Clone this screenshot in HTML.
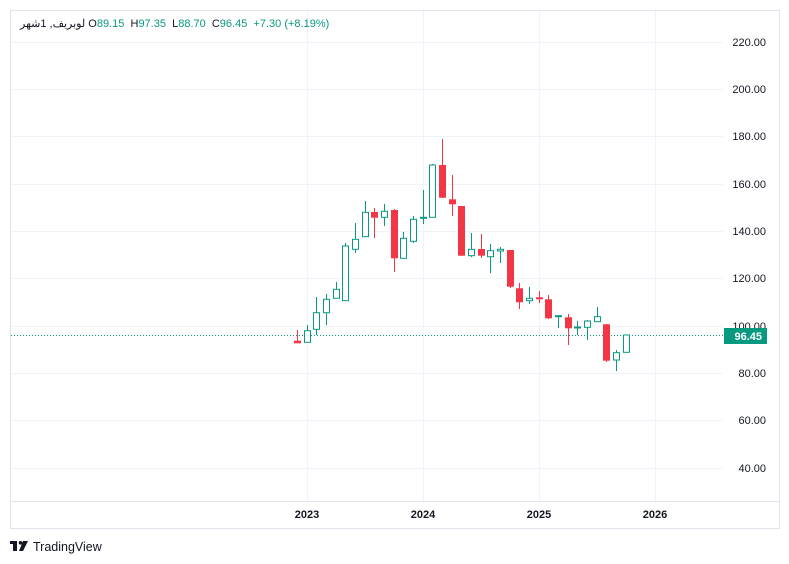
<!DOCTYPE html>
<html><head><meta charset="utf-8"><style>
html,body{margin:0;padding:0;background:#fff;width:789px;height:564px;overflow:hidden;position:relative}
svg{display:block}
text{font-family:"Liberation Sans","Noto Sans CJK SC",sans-serif}
#hd{position:absolute;left:20px;top:17px;font:11px "Liberation Sans","Noto Sans CJK SC",sans-serif;color:#089981;white-space:pre}
#hd b{font-weight:normal;color:#131722}
</style></head><body>
<svg width="789" height="564" viewBox="0 0 789 564" xmlns="http://www.w3.org/2000/svg">
<rect x="10.5" y="10.5" width="769" height="518" fill="#fff" stroke="#e0e3eb"/>
<line x1="11" y1="501.5" x2="779" y2="501.5" stroke="#e0e3eb"/>
<g stroke="#f0f3fa" stroke-width="1">
<line x1="11" y1="42.5" x2="723" y2="42.5"/><line x1="11" y1="89.5" x2="723" y2="89.5"/>
<line x1="11" y1="136.5" x2="723" y2="136.5"/><line x1="11" y1="184.5" x2="723" y2="184.5"/>
<line x1="11" y1="231.5" x2="723" y2="231.5"/><line x1="11" y1="278.5" x2="723" y2="278.5"/>
<line x1="11" y1="326.5" x2="723" y2="326.5"/><line x1="11" y1="373.5" x2="723" y2="373.5"/>
<line x1="11" y1="420.5" x2="723" y2="420.5"/><line x1="11" y1="468.5" x2="723" y2="468.5"/>
<line x1="307.5" y1="11" x2="307.5" y2="501"/><line x1="423.5" y1="11" x2="423.5" y2="501"/>
<line x1="539.5" y1="11" x2="539.5" y2="501"/><line x1="655.5" y1="11" x2="655.5" y2="501"/>
</g>
<g font-size="11" fill="#131722" text-anchor="end">
<text x="766" y="46">220.00</text><text x="766" y="93">200.00</text><text x="766" y="140">180.00</text>
<text x="766" y="188">160.00</text><text x="766" y="235">140.00</text><text x="766" y="282">120.00</text>
<text x="766" y="330">100.00</text><text x="766" y="377">80.00</text><text x="766" y="424">60.00</text>
<text x="766" y="472">40.00</text>
</g>
<g font-size="11" fill="#131722" text-anchor="middle" font-weight="bold">
<text x="307" y="518">2023</text><text x="423" y="518">2024</text><text x="539" y="518">2025</text><text x="655" y="518">2026</text>
</g>
<line x1="11" y1="335.5" x2="723" y2="335.5" stroke="#089981" stroke-dasharray="1,2"/>
<rect x="724" y="328" width="43" height="16" fill="#089981"/>
<text x="762" y="340" font-size="11" font-weight="bold" fill="#fff" text-anchor="end">96.45</text>
<g stroke="#f23645" fill="#f23645">
<line x1="297.5" y1="330" x2="297.5" y2="343"/><rect x="294" y="340.7" width="7" height="2.6" stroke="none"/>
<line x1="374.5" y1="208" x2="374.5" y2="238"/><rect x="371" y="212" width="7" height="5.7" stroke="none"/>
<line x1="394.5" y1="209" x2="394.5" y2="272"/><rect x="391" y="210" width="7" height="48.3" stroke="none"/>
<line x1="442.5" y1="139" x2="442.5" y2="198"/><rect x="439" y="165" width="7" height="32.7" stroke="none"/>
<line x1="452.5" y1="175" x2="452.5" y2="216"/><rect x="449" y="199.3" width="7" height="5" stroke="none"/>
<line x1="461.5" y1="206" x2="461.5" y2="256"/><rect x="458" y="206" width="7" height="49.7" stroke="none"/>
<line x1="481.5" y1="234" x2="481.5" y2="258"/><rect x="478" y="249" width="7" height="6.7" stroke="none"/>
<line x1="510.5" y1="250" x2="510.5" y2="288"/><rect x="507" y="250" width="7" height="36.7" stroke="none"/>
<line x1="519.5" y1="283" x2="519.5" y2="309"/><rect x="516" y="288.3" width="7" height="14" stroke="none"/>
<line x1="539.5" y1="291" x2="539.5" y2="303"/><rect x="536" y="297.3" width="7" height="2" stroke="none"/>
<line x1="548.5" y1="295" x2="548.5" y2="319"/><rect x="545" y="299.3" width="7" height="19" stroke="none"/>
<line x1="568.5" y1="314" x2="568.5" y2="345"/><rect x="565" y="317.3" width="7" height="11" stroke="none"/>
<line x1="606.5" y1="324" x2="606.5" y2="362"/><rect x="603" y="324.3" width="7" height="36.4" stroke="none"/>
</g>
<g stroke="#089981" fill="#fff">
<line x1="307.5" y1="325" x2="307.5" y2="342"/><rect x="304.5" y="330.7" width="6" height="11.6"/>
<line x1="316.5" y1="297" x2="316.5" y2="335"/><rect x="313.5" y="312.7" width="6" height="16.6"/>
<line x1="326.5" y1="294" x2="326.5" y2="325"/><rect x="323.5" y="299.3" width="6" height="13.4"/>
<line x1="336.5" y1="282" x2="336.5" y2="298"/><rect x="333.5" y="289.3" width="6" height="9"/>
<line x1="345.5" y1="243" x2="345.5" y2="301"/><rect x="342.5" y="246" width="6" height="54.7"/>
<line x1="355.5" y1="223" x2="355.5" y2="253"/><rect x="352.5" y="239.3" width="6" height="10"/>
<line x1="365.5" y1="201" x2="365.5" y2="237"/><rect x="362.5" y="212.3" width="6" height="24.4"/>
<line x1="384.5" y1="204" x2="384.5" y2="226"/><rect x="381.5" y="211.3" width="6" height="6"/>
<line x1="403.5" y1="232" x2="403.5" y2="258"/><rect x="400.5" y="238.3" width="6" height="20"/>
<line x1="413.5" y1="216" x2="413.5" y2="243"/><rect x="410.5" y="219.3" width="6" height="22"/>
<line x1="423.5" y1="190" x2="423.5" y2="224"/><rect x="420.5" y="217.3" width="6" height="1"/>
<line x1="432.5" y1="164" x2="432.5" y2="217"/><rect x="429.5" y="165" width="6" height="52.3"/>
<line x1="471.5" y1="233" x2="471.5" y2="257"/><rect x="468.5" y="249.3" width="6" height="6.4"/>
<line x1="490.5" y1="244" x2="490.5" y2="273"/><rect x="487.5" y="250.7" width="6" height="6"/>
<line x1="500.5" y1="247" x2="500.5" y2="263"/><rect x="497.5" y="249.3" width="6" height="1.7"/>
<line x1="529.5" y1="287" x2="529.5" y2="304"/><rect x="526.5" y="298.3" width="6" height="2.4"/>
<line x1="558.5" y1="315" x2="558.5" y2="328"/><rect x="555.5" y="315.7" width="6" height="1"/>
<line x1="577.5" y1="321" x2="577.5" y2="335"/><rect x="574.5" y="327" width="6" height="1"/>
<line x1="587.5" y1="320" x2="587.5" y2="340"/><rect x="584.5" y="321" width="6" height="6.3"/>
<line x1="597.5" y1="307" x2="597.5" y2="322"/><rect x="594.5" y="316.7" width="6" height="5"/>
<line x1="616.5" y1="350" x2="616.5" y2="371"/><rect x="613.5" y="352.7" width="6" height="7.3"/>
<line x1="626.5" y1="335" x2="626.5" y2="352"/><rect x="623.5" y="335" width="6" height="17.3"/>
</g>
<g transform="translate(10,541)"><rect x="0" y="0" width="7" height="3" fill="#131722"/><rect x="3" y="0" width="4" height="10" fill="#131722"/><circle cx="10.5" cy="1.8" r="1.8" fill="#131722"/><polygon points="13,0 18,0 13,10 9,10" fill="#131722"/></g>
<text x="33" y="551" font-size="12.5" fill="#131722">TradingView</text>
</svg>
<div id="hd"><b><bdi>لوبريف, 1شهر</bdi> O</b>89.15  <b>H</b>97.35  <b>L</b>88.70  <b>C</b>96.45  +7.30 (+8.19%)</div>
</body></html>
